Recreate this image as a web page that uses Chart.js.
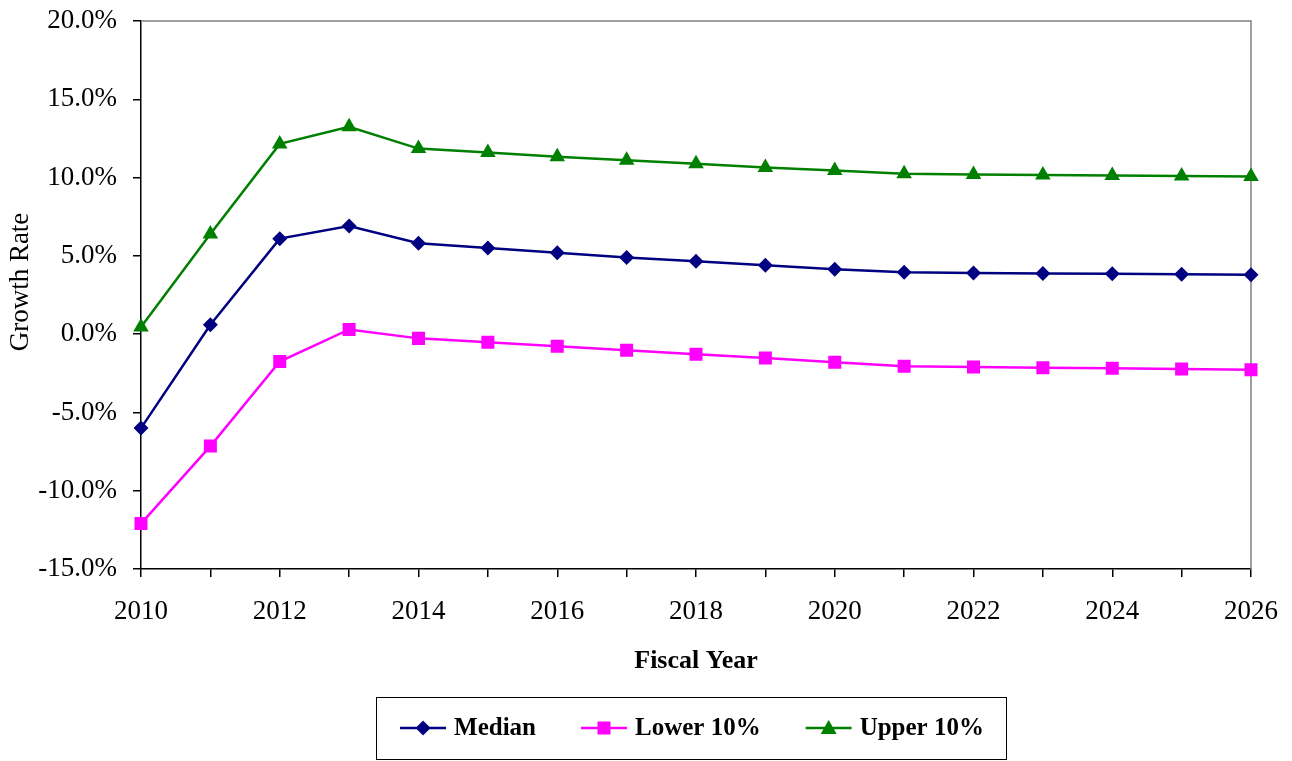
<!DOCTYPE html>
<html>
<head>
<meta charset="utf-8">
<script src="https://cdn.jsdelivr.net/npm/chart.js@4.4.1/dist/chart.umd.min.js"></script>
<style>
    html, body { margin: 0; padding: 0; background: #fff; }
    #wrap { width: 1292px; height: 761px; }
</style>
</head>
<body>
<div id="wrap"><canvas id="chart" width="1292" height="761"></canvas></div>
<script>
var years = ['2010', '2011', '2012', '2013', '2014', '2015', '2016', '2017', '2018',
             '2019', '2020', '2021', '2022', '2023', '2024', '2025', '2026'];
var median = [-6.0, 0.6, 6.1, 6.9, 5.8, 5.5, 5.2, 4.9, 4.65, 4.4, 4.15, 3.95, 3.9, 3.87, 3.85, 3.83, 3.8];
var lower10 = [-12.1, -7.15, -1.75, 0.3, -0.27, -0.52, -0.77, -1.03, -1.28, -1.53, -1.8, -2.05, -2.1, -2.14, -2.18, -2.23, -2.27];
var upper10 = [0.45, 6.4, 12.15, 13.25, 11.85, 11.6, 11.33, 11.1, 10.88, 10.65, 10.45, 10.25, 10.2, 10.17, 10.13, 10.1, 10.07];
var yTicks = [-15, -10, -5, 0, 5, 10, 15, 20];

var serif = "'Liberation Serif', 'Times New Roman', serif";

// grey frame on top and right like the original plot area
var frame = {
    id: 'frame',
    beforeDatasetsDraw: function (chart) {
        var a = chart.chartArea, c = chart.ctx;
        c.save();
        c.strokeStyle = '#808080';
        c.lineWidth = 1.5;
        c.beginPath();
        c.moveTo(a.left, a.top);
        c.lineTo(a.right, a.top);
        c.lineTo(a.right, a.bottom);
        c.stroke();
        c.restore();
    }
};

// y title sits a bit above the middle of the axis in the original
var yTitle = {
    id: 'yTitle',
    afterDraw: function (chart) {
        var c = chart.ctx;
        c.save();
        c.translate(21, 282);
        c.rotate(-Math.PI / 2);
        c.font = '27px ' + serif;
        c.fillStyle = '#000';
        c.textAlign = 'center';
        c.textBaseline = 'middle';
        c.fillText('Growth Rate', 0, 0);
        c.restore();
    }
};

function marker(c, style, x, y, color) {
    c.fillStyle = color;
    c.beginPath();
    if (style === 'rectRot') {
        c.moveTo(x, y - 7.5); c.lineTo(x + 7.5, y); c.lineTo(x, y + 7.5); c.lineTo(x - 7.5, y);
    } else if (style === 'rect') {
        c.rect(x - 6.5, y - 6.5, 13, 13);
    } else {
        c.moveTo(x, y - 8); c.lineTo(x + 8, y + 6); c.lineTo(x - 8, y + 6);
    }
    c.closePath();
    c.fill();
}

// boxed legend with line + marker samples
var boxLegend = {
    id: 'boxLegend',
    afterDraw: function (chart) {
        var c = chart.ctx;
        var sets = chart.data.datasets;
        c.save();
        c.font = 'bold 25px ' + serif;
        var lineW = 46, gap = 8, between = 45;
        var total = 0;
        sets.forEach(function (d, i) {
            total += lineW + gap + c.measureText(d.label).width + (i < sets.length - 1 ? between : 0);
        });
        var cx = 692, top = 697, h = 62;
        var padL = 24, padR = 22;
        var x = cx - total / 2;
        c.strokeStyle = '#000';
        c.lineWidth = 1;
        c.strokeRect(Math.round(x - padL) + 0.5, top + 0.5, Math.round(total + padL + padR), h);
        var y = top + h / 2;
        sets.forEach(function (d) {
            c.strokeStyle = d.borderColor;
            c.lineWidth = 2.5;
            c.beginPath();
            c.moveTo(x, y);
            c.lineTo(x + lineW, y);
            c.stroke();
            marker(c, d.pointStyle, x + lineW / 2, y, d.pointBackgroundColor);
            c.fillStyle = '#000';
            c.textBaseline = 'middle';
            c.fillText(d.label, x + lineW + gap, y + 1);
            x += lineW + gap + c.measureText(d.label).width + between;
        });
        c.restore();
    }
};

function series(label, values, color, style, radius) {
    return {
        label: label,
        data: values,
        borderColor: color,
        backgroundColor: color,
        pointBackgroundColor: color,
        pointBorderColor: color,
        pointBorderWidth: 0,
        borderWidth: 2.5,
        pointStyle: style,
        pointRadius: radius,
        pointHoverRadius: radius,
        tension: 0
    };
}

new Chart(document.getElementById('chart'), {
    type: 'line',
    data: {
        labels: years,
        datasets: [
            series('Median', median, '#000080', 'rectRot', 7.5),
            series('Lower 10%', lower10, '#FF00FF', 'rect', 9.2),
            series('Upper 10%', upper10, '#008000', 'triangle', 9)
        ]
    },
    options: {
        responsive: false,
        animation: false,
        layout: { padding: { left: 0, top: 21, right: 41, bottom: 82 } },
        plugins: {
            legend: { display: false },
            tooltip: { enabled: false }
        },
        scales: {
            x: {
                type: 'category',
                offset: false,
                grid: { drawOnChartArea: false, drawTicks: true, tickLength: 8, color: '#000', lineWidth: 1.5 },
                border: { display: true, color: '#000', width: 1.5 },
                ticks: {
                    autoSkip: false,
                    maxRotation: 0,
                    padding: 19,
                    color: '#000',
                    font: { family: serif, size: 27 },
                    callback: function (v, i) { return i % 2 === 0 ? years[i] : ''; }
                },
                title: {
                    display: true,
                    text: 'Fiscal Year',
                    color: '#000',
                    font: { family: serif, size: 26, weight: 'bold' },
                    padding: { top: 0, bottom: 2 }
                },
                afterFit: function (s) { s.height = 110; s.paddingLeft = 0; s.paddingRight = 0; }
            },
            y: {
                min: yTicks[0],
                max: yTicks[yTicks.length - 1],
                afterBuildTicks: function (s) {
                    s.ticks = yTicks.map(function (v) { return { value: v }; });
                },
                grid: { drawOnChartArea: false, drawTicks: true, tickLength: 8, color: '#000', lineWidth: 1.5 },
                border: { display: true, color: '#000', width: 1.5 },
                ticks: {
                    padding: 16,
                    color: '#000',
                    font: { family: serif, size: 27 },
                    callback: function (v) { return v.toFixed(1) + '%'; }
                },
                title: { display: false },
                afterFit: function (s) { s.width = 141; s.paddingTop = 0; s.paddingBottom = 0; }
            }
        }
    },
    plugins: [frame, yTitle, boxLegend]
});
</script>
</body>
</html>
